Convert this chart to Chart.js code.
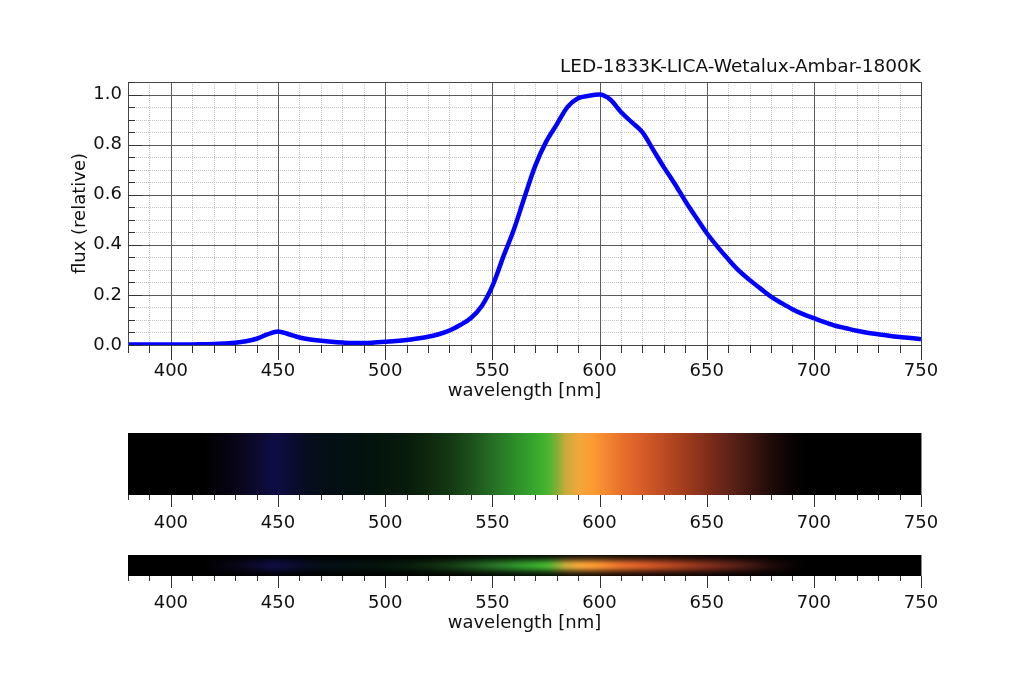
<!DOCTYPE html>
<html>
<head>
<meta charset="utf-8">
<script src="https://cdn.jsdelivr.net/npm/chart.js@4.4.1/dist/chart.umd.min.js"></script>
<style>
html,body{margin:0;padding:0;background:#fff;}
#wrap{position:relative;width:1023px;height:682px;overflow:hidden;}
#wrap canvas{position:absolute;left:0;top:0;}
</style>
</head>
<body>
<div id="wrap">
<canvas id="c1" width="1023" height="682"></canvas>
<canvas id="c2" width="1023" height="682"></canvas>
<canvas id="c3" width="1023" height="682"></canvas>
</div>
<script>
// ---------------- data ----------------
const chartTitle = 'LED-1833K-LICA-Wetalux-Ambar-1800K';
const xAxisTitle = 'wavelength [nm]';
const yAxisTitle = 'flux (relative)';

const wavelengths = [380,385,390,395,400,405,410,415,420,425,430,435,440,445,450,455,460,465,470,475,
  480,485,490,495,500,505,510,515,520,525,530,535,540,545,550,555,560,565,570,575,
  580,585,590,595,600,605,610,615,620,625,630,635,640,645,650,655,660,665,670,675,
  680,685,690,695,700,705,710,715,720,725,730,735,740,745,750];

const flux = [0.002,0.002,0.002,0.002,0.002,0.002,0.002,0.003,0.004,0.006,0.009,0.015,0.025,0.042,0.054,0.043,0.030,0.022,0.017,0.013,
  0.010,0.008,0.008,0.010,0.013,0.016,0.020,0.026,0.033,0.043,0.058,0.080,0.108,0.155,0.235,0.350,0.460,0.590,0.715,0.810,
  0.880,0.950,0.985,0.995,1.000,0.980,0.930,0.890,0.850,0.780,0.710,0.645,0.575,0.510,0.447,0.393,0.343,0.297,0.260,0.226,
  0.193,0.167,0.143,0.123,0.107,0.091,0.077,0.067,0.057,0.049,0.043,0.037,0.032,0.028,0.023];

const xMajorTicks = [400,450,500,550,600,650,700,750];
const yMajorTicks = [0.0,0.2,0.4,0.6,0.8,1.0];

// spectrum strip colour stops (style)
const stopWl  = [380,415,420,430,440,448,455,462,470,480,490,500,510,520,530,540,550,560,570,576,580,584,590,597,603,610,620,630,640,650,660,670,680,690,697,750];
const stopRGB = [[0,0,0],[0,0,0],[4,2,8],[8,5,22],[12,10,45],[14,13,68],[12,12,55],[8,12,35],[4,14,22],[3,16,18],[3,18,14],[5,22,12],[8,28,12],[14,40,14],[20,56,20],[28,80,28],[38,110,38],[45,140,42],[55,168,45],[75,180,50],[130,175,55],[200,170,60],[240,168,58],[252,155,50],[245,135,48],[232,112,44],[215,92,40],[190,75,35],[160,60,30],[130,46,27],[98,35,24],[66,24,18],[32,11,9],[8,3,2],[0,0,0],[0,0,0]];

// ---------------- helpers ----------------
const FONT = 'DejaVu Sans';
Chart.defaults.font.family = FONT;
Chart.defaults.font.size = 18;
Chart.defaults.color = '#111';

const isMajorX = v => xMajorTicks.some(t => Math.abs(t - v) < 1e-6);
const isMajorY = v => yMajorTicks.some(t => Math.abs(t - v) < 1e-6);

function xTickLabel(v){ return isMajorX(v) ? String(Math.round(v)) : ''; }

function spectrumGradient(chart){
  const xs = chart.scales.x, ctx = chart.ctx;
  const x0 = xs.getPixelForValue(wavelengths[0]);
  const x1 = xs.getPixelForValue(wavelengths[wavelengths.length-1]);
  const g = ctx.createLinearGradient(x0,0,x1,0);
  stopWl.forEach((w,i)=>{
    const t = Math.min(1, Math.max(0, (xs.getPixelForValue(w)-x0)/(x1-x0)));
    g.addColorStop(t, 'rgb(' + stopRGB[i].join(',') + ')');
  });
  return g;
}

function drawXTicks(chart, majorLen, minorLen){
  const ctx = chart.ctx, xs = chart.scales.x, b = chart.chartArea.bottom;
  ctx.save();
  ctx.strokeStyle = '#333'; ctx.lineWidth = 1;
  xs.ticks.forEach(t=>{
    const px = Math.round(xs.getPixelForValue(t.value)) + 0.5;
    const len = isMajorX(t.value) ? majorLen : minorLen;
    ctx.beginPath(); ctx.moveTo(px, b); ctx.lineTo(px, b + len); ctx.stroke();
  });
  ctx.restore();
}

// ---------------- main chart ----------------
const mainPlugin = {
  id: 'mainFrame',
  beforeDatasetsDraw(chart){
    const ctx = chart.ctx, xs = chart.scales.x, ys = chart.scales.y;
    const {left,right,top,bottom} = chart.chartArea;
    ctx.save();
    ctx.lineWidth = 1;
    ctx.strokeStyle = '#c4c4c4'; ctx.setLineDash([1,1]);
    xs.ticks.forEach(t=>{ if(!isMajorX(t.value)){ const px=Math.round(xs.getPixelForValue(t.value))+0.5; ctx.beginPath(); ctx.moveTo(px,top); ctx.lineTo(px,bottom); ctx.stroke(); }});
    ys.ticks.forEach(t=>{ if(!isMajorY(t.value)){ const py=Math.round(ys.getPixelForValue(t.value))+0.5; ctx.beginPath(); ctx.moveTo(left,py); ctx.lineTo(right,py); ctx.stroke(); }});
    ctx.setLineDash([]); ctx.strokeStyle = '#5a5a5a';
    xs.ticks.forEach(t=>{ if(isMajorX(t.value)){ const px=Math.round(xs.getPixelForValue(t.value))+0.5; ctx.beginPath(); ctx.moveTo(px,top); ctx.lineTo(px,bottom); ctx.stroke(); }});
    ys.ticks.forEach(t=>{ if(isMajorY(t.value)){ const py=Math.round(ys.getPixelForValue(t.value))+0.5; ctx.beginPath(); ctx.moveTo(left,py); ctx.lineTo(right,py); ctx.stroke(); }});
    ctx.restore();
  },
  afterDatasetsDraw(chart){
    const ctx = chart.ctx, ys = chart.scales.y;
    const {left,right,top,bottom} = chart.chartArea;
    ctx.save();
    ctx.strokeStyle = '#444'; ctx.lineWidth = 1;
    ctx.strokeRect(Math.round(left)+0.5, Math.round(top)+0.5, Math.round(right-left), Math.round(bottom-top));
    ctx.strokeStyle = '#333';
    ys.ticks.forEach(t=>{
      const py = Math.round(ys.getPixelForValue(t.value))+0.5;
      const len = isMajorY(t.value) ? 14 : 7;
      ctx.beginPath(); ctx.moveTo(left, py); ctx.lineTo(left+len, py); ctx.stroke();
    });
    ctx.restore();
    drawXTicks(chart, 15, 8);
  }
};

new Chart(document.getElementById('c1'), {
  type: 'line',
  data: { datasets: [{
    data: wavelengths.map((w,i)=>({x:w, y:flux[i]})),
    borderColor: '#0000ff', borderWidth: 4.5, pointRadius: 0,
    cubicInterpolationMode: 'monotone', fill: false
  }]},
  options: {
    responsive: false, animation: false, events: [],
    layout: { padding: { left: 70, right: 102, top: 56, bottom: 280 } },
    plugins: {
      legend: { display: false }, tooltip: { enabled: false },
      title: { display: true, text: chartTitle, align: 'end', color: '#111',
               font: { family: FONT, size: 18.5, weight: 'normal' }, padding: { top: 0, bottom: 3.8 } }
    },
    scales: {
      x: { type: 'linear', min: 380, max: 750,
           ticks: { stepSize: 10, autoSkip: false, maxRotation: 0, padding: 16, callback: xTickLabel },
           grid: { display: false, drawTicks: false }, border: { display: false },
           title: { display: true, text: xAxisTitle, padding: 0, font: { family: FONT, size: 18 } },
           afterFit(s){ s.height = 57; } },
      y: { type: 'linear', min: 0, max: 1.05,
           ticks: { stepSize: 0.05, autoSkip: false, padding: 6,
                    callback: v => isMajorY(v) ? v.toFixed(1) : '' },
           grid: { display: false, drawTicks: false }, border: { display: false },
           title: { display: true, text: yAxisTitle, padding: 0, font: { family: FONT, size: 18 } },
           afterFit(s){ s.width = 58; } }
    }
  },
  plugins: [mainPlugin]
});

// ---------------- spectrum strips ----------------
function stripConfig(padTop, padBottom, axisHeight, labelPad, withTitle, overlay){
  return {
    type: 'bar',
    data: { datasets: [{
      data: wavelengths.map(w=>({x:w, y:[0,1]})),
      backgroundColor: c => c.chart.chartArea ? spectrumGradient(c.chart) : '#000',
      borderWidth: 0, inflateAmount: 1, barPercentage: 1, categoryPercentage: 1, grouped: false
    }]},
    options: {
      responsive: false, animation: false, events: [],
      layout: { padding: { left: 128, right: 102, top: padTop, bottom: padBottom } },
      plugins: { legend: { display: false }, tooltip: { enabled: false } },
      scales: {
        x: { type: 'linear', min: 380, max: 750, offset: false,
             ticks: { stepSize: 10, autoSkip: false, maxRotation: 0, padding: labelPad, callback: xTickLabel },
             grid: { display: false, drawTicks: false, offset: false }, border: { display: false },
             title: { display: withTitle, text: xAxisTitle, padding: 0, font: { family: FONT, size: 18 } },
             afterFit(s){ s.height = axisHeight; } },
        y: { display: false, min: 0, max: 1 }
      }
    },
    plugins: [{
      id: 'stripDeco',
      afterDatasetsDraw(chart){
        const ctx = chart.ctx;
        const {left,right,top,bottom} = chart.chartArea;
        if (overlay){
          const g = ctx.createLinearGradient(0, top, 0, bottom);
          const h = bottom - top, sigma = 4.8;
          for (let k = 0; k <= 20; k++){
            const t = k/20, d = (t-0.5)*h;
            const a = 1 - Math.exp(-d*d/(2*sigma*sigma));
            g.addColorStop(t, 'rgba(0,0,0,' + a.toFixed(3) + ')');
          }
          ctx.save(); ctx.fillStyle = g; ctx.fillRect(left, top, right-left, bottom-top); ctx.restore();
        }
        ctx.save();
        ctx.strokeStyle = '#888'; ctx.lineWidth = 1;
        const rx = Math.round(right)+0.5;
        ctx.beginPath(); ctx.moveTo(rx, top); ctx.lineTo(rx, bottom); ctx.stroke();
        ctx.restore();
        drawXTicks(chart, 12, 5);
      }
    }]
  };
}

new Chart(document.getElementById('c2'), stripConfig(433, 0, 187, 18, false, false));
new Chart(document.getElementById('c3'), stripConfig(555, 48, 58, 17, true, true));
</script>
</body>
</html>
